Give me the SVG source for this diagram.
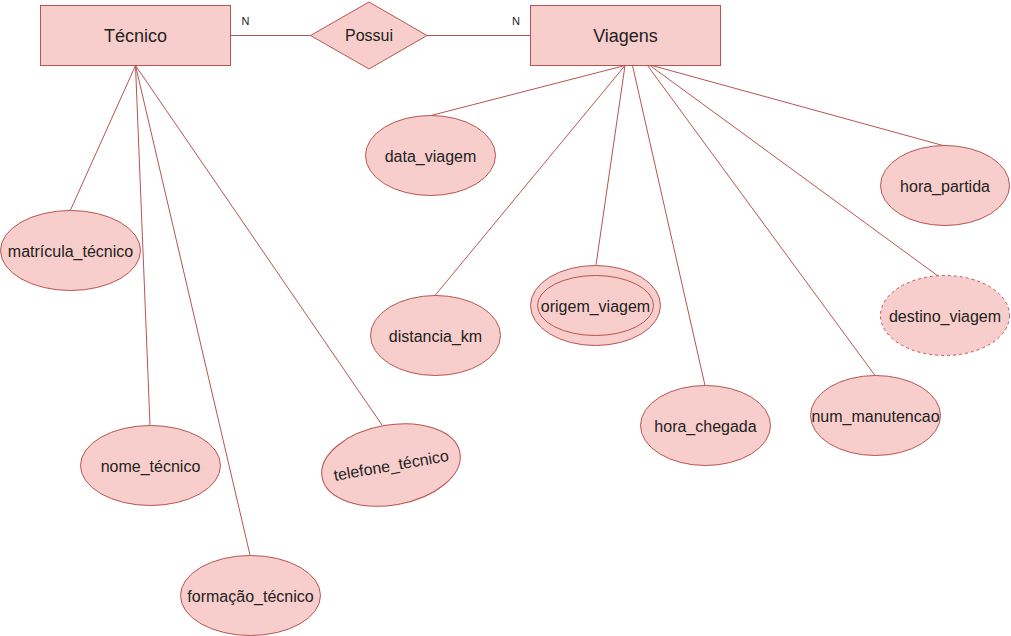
<svg xmlns="http://www.w3.org/2000/svg" width="1011" height="636" viewBox="0 0 1011 636">
<style>
.s{fill:#f8cecc;stroke:#b85450;stroke-width:1}
.c{stroke:#b85450;stroke-width:1;fill:none}
.t{font-family:"Liberation Sans",Arial,sans-serif;font-size:16px;fill:#222;text-anchor:middle}
.h{font-size:18px}
.n{font-family:"Liberation Sans",Arial,sans-serif;font-size:11px;fill:#222;text-anchor:middle}
</style>
<rect width="1011" height="636" fill="#fff"/>
<g id="connectors">
<line class="c" x1="230.5" y1="35.5" x2="310.5" y2="35.5"/>
<line class="c" x1="427" y1="35.5" x2="530.5" y2="35.5"/>
<line class="c" x1="135.5" y1="65.5" x2="70.5" y2="210"/>
<line class="c" x1="135.5" y1="65.5" x2="150" y2="425"/>
<line class="c" x1="135.5" y1="65.5" x2="250" y2="555"/>
<line class="c" x1="135.5" y1="65.5" x2="382" y2="425"/>
<line class="c" x1="625" y1="65.5" x2="431" y2="115.5"/>
<line class="c" x1="625" y1="65.5" x2="435" y2="295.5"/>
<line class="c" x1="625" y1="65.5" x2="596" y2="265"/>
<line class="c" x1="632.5" y1="65.5" x2="705" y2="385.5"/>
<line class="c" x1="647.5" y1="65.5" x2="875" y2="375.5"/>
<line class="c" x1="650" y1="65.5" x2="938" y2="276"/>
<line class="c" x1="652" y1="65.5" x2="943" y2="145.5"/>
<text class="n" x="245.5" y="25">N</text>
<text class="n" x="516" y="25">N</text>
</g>
<g id="tecnico">
<rect class="s" x="40.5" y="5.5" width="190" height="60"/>
<text class="t h" x="135.5" y="41.5">Técnico</text>
</g>
<g id="possui">
<polygon class="s" points="310.5,35.5 369,2 427,35.5 369,69"/>
<text class="t" x="369" y="41">Possui</text>
</g>
<g id="viagens">
<rect class="s" x="530.5" y="5.5" width="190" height="60"/>
<text class="t h" x="625.5" y="41.5">Viagens</text>
</g>
<g id="data_viagem">
<ellipse class="s" cx="430.5" cy="155.5" rx="65" ry="40"/>
<text class="t" x="430.5" y="161.5">data_viagem</text>
</g>
<g id="matricula_tecnico">
<ellipse class="s" cx="70.5" cy="250.5" rx="70" ry="40"/>
<text class="t" x="70.5" y="256.5">matrícula_técnico</text>
</g>
<g id="nome_tecnico">
<ellipse class="s" cx="150.5" cy="465.5" rx="70" ry="40"/>
<text class="t" x="150.5" y="471.5">nome_técnico</text>
</g>
<g id="formacao_tecnico">
<ellipse class="s" cx="250.5" cy="595.5" rx="70" ry="40"/>
<text class="t" x="250.5" y="601.5">formação_técnico</text>
</g>
<g id="telefone_tecnico" transform="rotate(-10 391 465)">
<ellipse class="s" cx="391" cy="465" rx="70" ry="40"/>
<text class="t" x="391" y="471">telefone_técnico</text>
</g>
<g id="distancia_km">
<ellipse class="s" cx="435.5" cy="335.5" rx="65" ry="40"/>
<text class="t" x="435.5" y="341.5">distancia_km</text>
</g>
<g id="origem_viagem">
<ellipse class="s" cx="595.5" cy="305.5" rx="65" ry="40"/>
<ellipse class="s" cx="595.5" cy="305.5" rx="58" ry="30"/>
<text class="t" x="595.5" y="311.5">origem_viagem</text>
</g>
<g id="hora_chegada">
<ellipse class="s" cx="705.5" cy="425.5" rx="65" ry="40"/>
<text class="t" x="705.5" y="431.5">hora_chegada</text>
</g>
<g id="num_manutencao">
<ellipse class="s" cx="875.5" cy="415.5" rx="65" ry="40"/>
<text class="t" x="875.5" y="421.5">num_manutencao</text>
</g>
<g id="destino_viagem">
<ellipse class="s" cx="945" cy="315.5" rx="64.5" ry="40" stroke-dasharray="3,3"/>
<text class="t" x="945" y="321.5">destino_viagem</text>
</g>
<g id="hora_partida">
<ellipse class="s" cx="945" cy="185.5" rx="64.5" ry="40"/>
<text class="t" x="945" y="191.5">hora_partida</text>
</g>
</svg>
